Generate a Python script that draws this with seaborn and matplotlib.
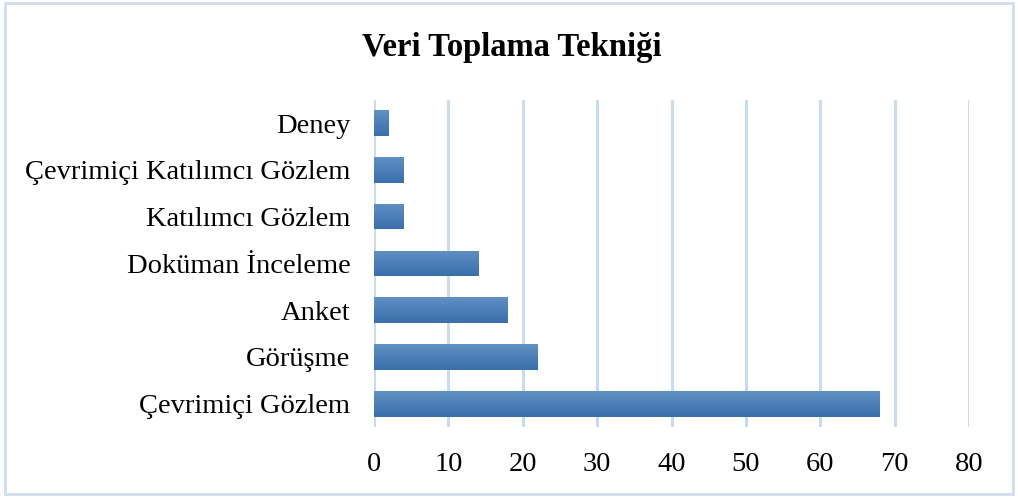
import numpy as np
import pandas as pd
import matplotlib.pyplot as plt
import seaborn as sns
from matplotlib.patches import Rectangle

# chart data
techniques = ['Deney', 'Çevrimiçi Katılımcı Gözlem', 'Katılımcı Gözlem',
              'Doküman İnceleme', 'Anket', 'Görüşme', 'Çevrimiçi Gözlem']
counts = [2, 4, 4, 14, 18, 22, 68]
x_ticks = [0, 10, 20, 30, 40, 50, 60, 70, 80]

df = pd.DataFrame({'Teknik': techniques, 'Sayi': counts})

sns.set_style('white')
plt.rcParams['font.family'] = ['Liberation Serif', 'DejaVu Serif']
plt.rcParams['text.color'] = 'black'
plt.rcParams['xtick.color'] = 'black'
plt.rcParams['ytick.color'] = 'black'

fig = plt.figure(figsize=(10.18, 4.97), dpi=100)
ax = fig.add_axes([0.3674, 0.1408, 0.5845, 0.6586])

sns.barplot(data=df, x='Sayi', y='Teknik', orient='h', color='#4a7db8',
            width=0.55, ax=ax, zorder=3)

# vertical gradient on each bar (lighter at top, darker at bottom)
grad = np.linspace(0, 1, 64).reshape(-1, 1)
cmap = sns.blend_palette(['#6090c4', '#3a6fab'], as_cmap=True)
for p in ax.patches:
    x0, y0 = p.get_x(), p.get_y()
    w, h = p.get_width(), p.get_height()
    im = ax.imshow(grad, cmap=cmap, aspect='auto', extent=[x0, x0 + w, y0, y0 + h],
                   origin='lower', zorder=4)
    im.set_clip_path(p)
    p.set_edgecolor('none')

ax.set_xlim(0, 80)
ax.set_ylim(6.5, -0.5)
ax.set_xticks(x_ticks)
ax.grid(axis='x', color='#c9dcef', linewidth=2.2, zorder=0)
ax.set_axisbelow(True)
for s in ax.spines.values():
    s.set_visible(False)
ax.tick_params(axis='y', length=0, pad=17, labelsize=20.5, labelcolor='black')
ax.tick_params(axis='x', length=0, pad=18, labelsize=20.5, labelcolor='black')
ax.set_xlabel('')
ax.set_ylabel('')

fig.text(0.503, 0.905, 'Veri Toplama Tekniği', ha='center', va='center',
         fontsize=23.5, fontweight='bold', color='black')

# light frame round the whole chart
fig.patches.append(Rectangle((0.005, 0.006), 0.99, 0.988, transform=fig.transFigure,
                             fill=False, edgecolor='#d0dded', linewidth=2))

fig.savefig('out.png', dpi=100)
